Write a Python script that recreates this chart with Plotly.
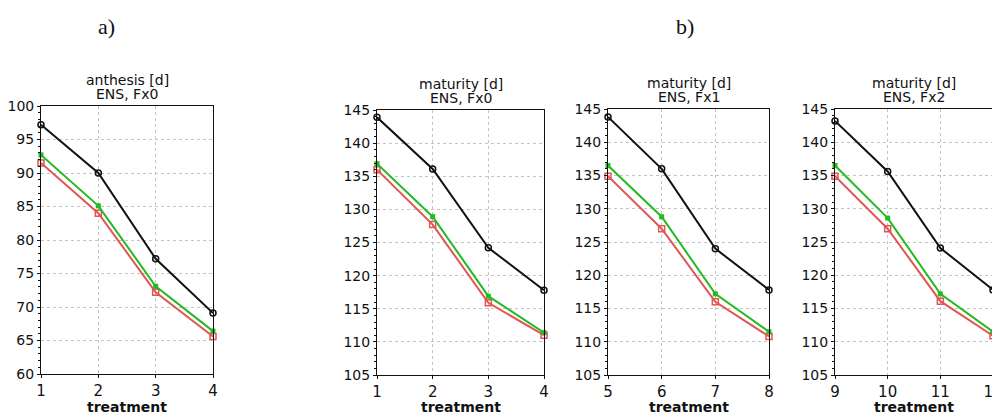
import plotly.graph_objects as go

# ---- data ----
treat_a = [1, 2, 3, 4]
anth_black = [97.2, 90.0, 77.2, 69.1]
anth_green = [92.7, 85.1, 73.1, 66.4]
anth_red = [91.5, 84.0, 72.2, 65.6]

treat_b0 = [1, 2, 3, 4]
mat0_black = [143.9, 136.1, 124.2, 117.8]
mat0_green = [136.9, 128.9, 116.9, 111.4]
mat0_red = [136.0, 127.7, 115.9, 111.0]

treat_b1 = [5, 6, 7, 8]
mat1_black = [143.8, 136.0, 124.0, 117.8]
mat1_green = [136.5, 128.8, 117.2, 111.5]
mat1_red = [134.9, 127.0, 116.0, 110.8]

treat_b2 = [9, 10, 11, 12]
mat2_black = [143.2, 135.6, 124.1, 117.8]
mat2_green = [136.5, 128.6, 117.2, 111.5]
mat2_red = [134.9, 127.0, 116.1, 110.9]

panels = [
    dict(x=treat_a, k=anth_black, g=anth_green, r=anth_red, t1="anthesis [d]", t2="ENS, Fx0",
         yr=[60, 100], yt=[60, 65, 70, 75, 80, 85, 90, 95, 100], px=(41, 213), py=(106, 374), fs=14),
    dict(x=treat_b0, k=mat0_black, g=mat0_green, r=mat0_red, t1="maturity [d]", t2="ENS, Fx0",
         yr=[105, 145], yt=list(range(105, 146, 5)), px=(377, 544), py=(110, 375), fs=14),
    dict(x=treat_b1, k=mat1_black, g=mat1_green, r=mat1_red, t1="maturity [d]", t2="ENS, Fx1",
         yr=[105, 145], yt=list(range(105, 146, 5)), px=(608, 769), py=(109, 375), fs=14),
    dict(x=treat_b2, k=mat2_black, g=mat2_green, r=mat2_red, t1="maturity [d]", t2="ENS, Fx2",
         yr=[105, 145], yt=list(range(105, 146, 5)), px=(835, 993), py=(109, 375), fs=14),
]

OFF = 8  # page body margin
W, H = 1000 - OFF, 414 - OFF


def px_x(x):
    return (x - OFF) / W


def px_y(y):
    return 1 - (y - OFF) / H


fig = go.Figure()
BLACK = "#111111"
GREEN = "#22bb22"
RED = "#e05555"


def note(x, y, text, size, family="DejaVu Sans"):
    fig.add_annotation(x=px_x(x), y=px_y(y), xref="paper", yref="paper", text=text,
                       showarrow=False, xanchor="center", yanchor="middle",
                       font=dict(family=family, size=size, color="#111111"))


for i, p in enumerate(panels):
    n = "" if i == 0 else str(i + 1)
    xa, ya = "x" + n, "y" + n
    series = [
        (p["r"], RED, dict(symbol="square-open", size=6, color=RED, line=dict(width=1.5, color=RED))),
        (p["g"], GREEN, dict(symbol="square", size=5, color=GREEN)),
        (p["k"], BLACK, dict(symbol="circle-open", size=6, color=BLACK, line=dict(width=1.5, color=BLACK))),
    ]
    for yv, col, mk in series:
        fig.add_trace(go.Scatter(x=p["x"], y=yv, mode="lines+markers", xaxis=xa, yaxis=ya,
                                 line=dict(color=col, width=2), marker=mk,
                                 cliponaxis=False, showlegend=False))
    x0, x1 = p["px"]
    y0, y1 = p["py"]
    xd = [px_x(x0), px_x(x1)]
    yd = [px_y(y1), px_y(y0)]
    fig.layout["xaxis" + n] = dict(
        domain=xd, anchor=ya, range=[p["x"][0], p["x"][-1]], tickvals=p["x"],
        showgrid=True, gridcolor="#c4c4c4", griddash="dot", gridwidth=1,
        showline=True, linecolor="#111111", linewidth=1, mirror=True,
        ticks="outside", ticklen=3, tickcolor="#111111",
        tickfont=dict(family="DejaVu Sans", size=15, color="#111111"),
        ticklabeloverflow="allow",
        zeroline=False, automargin=False,
    )
    fig.layout["yaxis" + n] = dict(
        domain=yd, anchor=xa, range=p["yr"], tickvals=p["yt"],
        showgrid=True, gridcolor="#c4c4c4", griddash="dot", gridwidth=1,
        showline=True, linecolor="#111111", linewidth=1, mirror=True,
        ticks="outside", ticklen=3, tickcolor="#111111",
        tickfont=dict(family="DejaVu Sans", size=p["fs"], color="#111111"),
        minor=dict(ticks="outside", ticklen=2, dtick=1, tickcolor="#111111"),
        zeroline=False, automargin=False,
    )
    cx = (x0 + x1) / 2
    note(cx, y0 - 26, p["t1"], 14)
    note(cx, y0 - 12, p["t2"], 14)
    note(cx, 407, "<b>treatment</b>", 14)

note(106, 26, "a)", 22, "Liberation Serif")
note(685, 26, "b)", 22, "Liberation Serif")

fig.update_layout(width=W, height=H, margin=dict(l=0, r=0, t=0, b=0),
                  paper_bgcolor="white", plot_bgcolor="white")
fig.write_html("out.html")
